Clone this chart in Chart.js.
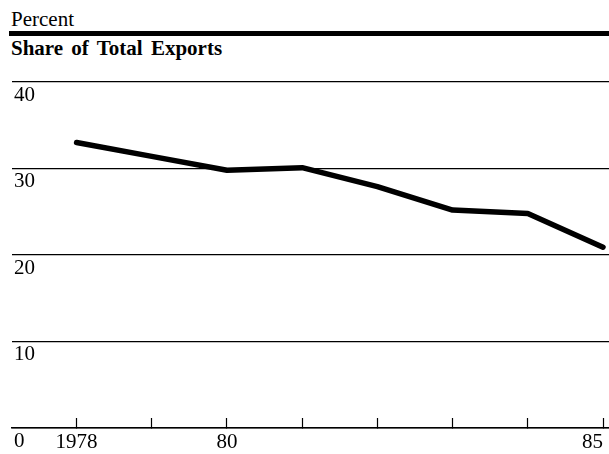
<!DOCTYPE html>
<html><head><meta charset="utf-8">
<script src="https://cdn.jsdelivr.net/npm/chart.js@4"></script>
<style>
html,body{margin:0;padding:0;background:#fff;overflow:hidden}
#wrap{position:relative;width:609px;height:454px;overflow:hidden}
.t{position:absolute;font-family:"Liberation Serif","Times New Roman",serif;color:#000;white-space:nowrap;line-height:1}
#unit{left:11px;top:9px;font-size:21px}
#rule{position:absolute;left:9px;top:31px;width:600px;height:5px;background:#000}
#title{left:11px;top:37.5px;font-size:21px;font-weight:bold;word-spacing:3px}
#c{position:absolute;left:0;top:0}
</style></head>
<body><div id="wrap">
<div class="t" id="unit">Percent</div>
<div id="rule"></div>
<div class="t" id="title">Share of Total Exports</div>
<canvas id="c" width="617" height="467"></canvas>
</div>
<script>
const years = [1978, 1979, 1980, 1981, 1982, 1983, 1984, 1985];
const shareOfExports = [33.0, 31.4, 29.8, 30.1, 27.9, 25.2, 24.8, 20.9];
const xTickLabels = {1978: '1978', 1980: '80', 1985: '85'};
const yTickValues = [0, 10, 20, 30, 40];

const X_MIN = 1977.141, X_MAX = 1985.1, X_LEAD = 1977.5;
const serif = '"Liberation Serif", "Times New Roman", serif';

new Chart(document.getElementById('c'), {
  type: 'line',
  data: {
    datasets: [{
      data: years.map((y, i) => ({x: y, y: shareOfExports[i]})),
      borderColor: '#000',
      borderWidth: 5.5,
      borderCapStyle: 'round',
      borderJoinStyle: 'round',
      pointRadius: 0,
      tension: 0,
      clip: false
    }]
  },
  options: {
    responsive: false,
    animation: false,
    layout: {padding: {left: 8, right: 0, top: 82, bottom: 0}},
    plugins: {legend: {display: false}, tooltip: {enabled: false}},
    scales: {
      x: {
        type: 'linear',
        min: X_MIN,
        max: X_MAX,
        afterBuildTicks: scale => {
          scale.ticks = [X_LEAD].concat(years).map(v => ({value: v}));
        },
        grid: {
          display: true,
          drawOnChartArea: false,
          drawTicks: true,
          tickLength: -10,
          tickWidth: 1.2,
          tickColor: ctx => (ctx.tick && Number.isInteger(ctx.tick.value)) ? '#000' : 'rgba(0,0,0,0)'
        },
        border: {display: true, color: '#000', width: 1.5},
        ticks: {
          align: 'inner',
          maxRotation: 0,
          autoSkip: false,
          padding: 14,
          color: '#000',
          font: {family: serif, size: 21, lineHeight: 1},
          callback: v => xTickLabels[v] || ''
        }
      },
      y: {
        min: 0,
        max: 40,
        afterBuildTicks: scale => {
          scale.ticks = yTickValues.map(v => ({value: v}));
        },
        grid: {color: '#000', lineWidth: 1.2, drawTicks: false},
        border: {display: false},
        ticks: {
          mirror: true,
          padding: 2,
          labelOffset: 13,
          color: '#000',
          font: {family: serif, size: 21, lineHeight: 1},
          callback: v => String(v)
        }
      }
    }
  }
});
</script>
</body></html>
